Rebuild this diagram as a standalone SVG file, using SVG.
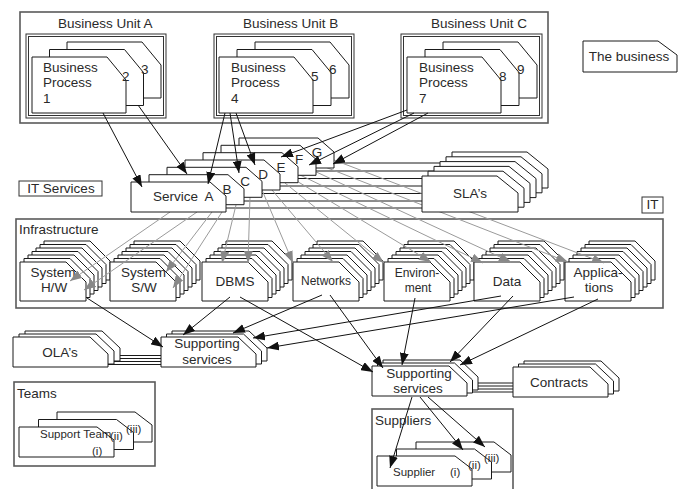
<svg xmlns="http://www.w3.org/2000/svg" width="682" height="489" viewBox="0 0 682 489">
<defs>
<style>
.c{fill:#fff;stroke:#1a1a1a;stroke-width:1}
.box{fill:none;stroke:#5a5a5a;stroke-width:1.6}
.box1{fill:none;stroke:#333;stroke-width:1}
text{font-family:'Liberation Sans Narrow','Arial Narrow','Liberation Sans',Arial,sans-serif;font-size:13.5px;fill:#2a2a2a;stroke:none}
.m{text-anchor:middle}
.s{font-size:12px}
.xs{font-size:11.5px}
.a{fill:none;stroke:#111;stroke-width:1;marker-end:url(#ah)}
.g{fill:none;stroke:#9a9a9a;stroke-width:1;marker-end:url(#gh)}
.l{fill:none;stroke:#1a1a1a;stroke-width:1}
</style>
<marker id="ah" viewBox="0 0 12 9" refX="12" refY="4.5" markerWidth="12" markerHeight="9" markerUnits="userSpaceOnUse" orient="auto"><path d="M0,0L12,4.5L0,9Z" fill="#111"/></marker>
<marker id="gh" viewBox="0 0 12 9" refX="12" refY="4.5" markerWidth="12" markerHeight="9" markerUnits="userSpaceOnUse" orient="auto"><path d="M0,0L12,4.5L0,9Z" fill="#888"/></marker>
<path id="bp" d="M0,0H75L94,23V56H0Z"/>
<path id="biz" d="M0,0H75L94,14V31H0Z"/>
<path id="svc" d="M0,0H79L95,14V30H0Z"/>
<path id="sla" d="M0,0H75L96,17V36H0Z"/>
<path id="inf" d="M0,0H46L66,20V39H0Z"/>
<path id="ss" d="M0,0H77L95,17V30H0Z"/>
<path id="sup" d="M0,0H78L95,13V30H0Z"/>
</defs>
<rect width="682" height="489" fill="#fff"/>

<g id="associations">
<path class="l" d="M200,163H460M200,171H460M200,178.5H460M200,186H460M200,193.5H460M200,201H460M200,208H460"/>
<path class="l" d="M100,355.5H170M100,358.5H170M100,361.5H170M100,364.5H170"/>
<path class="l" d="M460,383H520M460,386H520M460,389H520M460,392H520"/>
</g>

<g id="the-business-area">
<rect class="box" x="20" y="12" width="528" height="111"/>
</g>
<g id="unit-a">
<rect class="box1" x="26" y="34" width="140" height="84"/><rect class="box1" x="28.5" y="36.5" width="135" height="79"/>
<text x="58" y="28">Business Unit A</text>
</g>
<g id="unit-b">
<rect class="box1" x="214" y="34" width="140" height="84"/><rect class="box1" x="216.5" y="36.5" width="135" height="79"/>
<text x="243" y="28">Business Unit B</text>
</g>
<g id="unit-c">
<rect class="box1" x="401" y="34" width="141" height="84"/><rect class="box1" x="403.5" y="36.5" width="136" height="79"/>
<text x="431" y="28">Business Unit C</text>
</g>

<g id="infrastructure">
<rect class="box" x="16" y="219" width="647" height="89"/>
<text x="19" y="234">Infrastructure</text>
</g>

<g id="system-hw" class="c">
<use href="#inf" x="44" y="241"/><use href="#inf" x="40" y="244.5"/><use href="#inf" x="36" y="248"/><use href="#inf" x="32" y="251.5"/><use href="#inf" x="28" y="255"/><use href="#inf" x="24" y="258.5"/><use href="#inf" x="20" y="262"/>
<text class="m" x="53" y="277">System</text><text class="m" x="54" y="292">H/W</text>
</g>
<g id="system-sw" class="c">
<use href="#inf" x="134" y="241"/><use href="#inf" x="130" y="244.5"/><use href="#inf" x="126" y="248"/><use href="#inf" x="122" y="251.5"/><use href="#inf" x="118" y="255"/><use href="#inf" x="114" y="258.5"/><use href="#inf" x="110" y="262"/>
<text class="m" x="143.5" y="277">System</text><text class="m" x="144" y="292">S/W</text>
</g>
<g id="dbms" class="c">
<use href="#inf" x="226" y="241"/><use href="#inf" x="222" y="244.5"/><use href="#inf" x="218" y="248"/><use href="#inf" x="214" y="251.5"/><use href="#inf" x="210" y="255"/><use href="#inf" x="206" y="258.5"/><use href="#inf" x="202" y="262"/>
<text class="m" x="235" y="286">DBMS</text>
</g>
<g id="networks" class="c">
<use href="#inf" x="317" y="241"/><use href="#inf" x="313" y="244.5"/><use href="#inf" x="309" y="248"/><use href="#inf" x="305" y="251.5"/><use href="#inf" x="301" y="255"/><use href="#inf" x="297" y="258.5"/><use href="#inf" x="293" y="262"/>
<text class="m s" x="326" y="285">Networks</text>
</g>
<g id="environment" class="c">
<use href="#inf" x="408" y="241"/><use href="#inf" x="404" y="244.5"/><use href="#inf" x="400" y="248"/><use href="#inf" x="396" y="251.5"/><use href="#inf" x="392" y="255"/><use href="#inf" x="388" y="258.5"/><use href="#inf" x="384" y="262"/>
<text class="m s" x="417" y="277">Environ-</text><text class="m s" x="418" y="292">ment</text>
</g>
<g id="data" class="c">
<use href="#inf" x="498" y="241"/><use href="#inf" x="494" y="244.5"/><use href="#inf" x="490" y="248"/><use href="#inf" x="486" y="251.5"/><use href="#inf" x="482" y="255"/><use href="#inf" x="478" y="258.5"/><use href="#inf" x="474" y="262"/>
<text class="m" x="507" y="286">Data</text>
</g>
<g id="applications" class="c">
<use href="#inf" x="589" y="241"/><use href="#inf" x="585" y="244.5"/><use href="#inf" x="581" y="248"/><use href="#inf" x="577" y="251.5"/><use href="#inf" x="573" y="255"/><use href="#inf" x="569" y="258.5"/><use href="#inf" x="565" y="262"/>
<text class="m" x="598" y="277">Applica-</text><text class="m" x="599" y="292">tions</text>
</g>

<g id="connectors-services-infrastructure">
<path class="g" d="M170,212L70,281"/>
<path class="g" d="M197,212L84,290"/>
<path class="g" d="M212,212L166,272"/>
<path class="g" d="M222,212L173,288"/>
<path class="g" d="M236,205L222,263"/>
<path class="g" d="M250,197L248,263"/>
<path class="g" d="M262,190L293,263"/>
<path class="g" d="M272,190L333,262"/>
<path class="g" d="M285,183L384,263"/>
<path class="g" d="M295,180L431,262"/>
<path class="g" d="M300,175L483,263"/>
<path class="g" d="M312,170L511,262"/>
<path class="g" d="M320,165L568,262"/>
<path class="g" d="M334,160L604,263"/>
</g>

<g id="bp-a" class="c">
<use href="#bp" x="67" y="42"/><use href="#bp" x="49.5" y="49.5"/><use href="#bp" x="32" y="57"/>
<text x="43" y="72">Business</text><text x="43" y="87">Process</text><text x="43" y="103">1</text>
<text x="122" y="81">2</text><text x="141" y="74">3</text>
</g>
<g id="bp-b" class="c">
<use href="#bp" x="255" y="42"/><use href="#bp" x="237" y="49.5"/><use href="#bp" x="219" y="57"/>
<text x="231" y="72">Business</text><text x="231" y="87">Process</text><text x="231" y="103">4</text>
<text x="311" y="81">5</text><text x="329" y="74">6</text>
</g>
<g id="bp-c" class="c">
<use href="#bp" x="443" y="42"/><use href="#bp" x="425" y="49.5"/><use href="#bp" x="407" y="57"/>
<text x="419" y="72">Business</text><text x="419" y="87">Process</text><text x="419" y="103">7</text>
<text x="499" y="81">8</text><text x="517" y="74">9</text>
</g>

<g id="the-business" class="c">
<use href="#biz" x="583" y="41"/>
<text class="m" x="629" y="61">The business</text>
</g>

<g id="it-services-label">
<rect class="box1" x="19" y="181" width="83" height="15"/>
<text class="m" x="61" y="193">IT Services</text>
</g>

<g id="services" class="c">
<use href="#svc" x="239" y="138"/><use href="#svc" x="221" y="145.3"/><use href="#svc" x="203" y="152.7"/><use href="#svc" x="185" y="160"/><use href="#svc" x="167" y="167.3"/><use href="#svc" x="149" y="174.7"/><use href="#svc" x="131" y="182"/>
<text x="153" y="201">Service</text>
<text class="m" x="209" y="201">A</text><text class="m" x="227" y="194">B</text><text class="m" x="245" y="186">C</text><text class="m" x="263" y="179">D</text><text class="m" x="281" y="172">E</text><text class="m" x="299" y="164">F</text><text class="m" x="317" y="157">G</text>
</g>

<g id="slas" class="c">
<use href="#sla" x="452" y="152"/><use href="#sla" x="446" y="156.8"/><use href="#sla" x="440" y="161.6"/><use href="#sla" x="434" y="166.4"/><use href="#sla" x="428" y="171.2"/><use href="#sla" x="422" y="176"/>
<text class="m" x="470" y="198">SLA’s</text>
</g>

<g id="it-label">
<rect class="box1" x="642" y="197" width="21" height="16"/>
<text class="m" x="652.5" y="209">IT</text>
</g>

<g id="olas" class="c">
<use href="#ss" x="25" y="331"/><use href="#ss" x="19" y="334"/><use href="#ss" x="13" y="337"/>
<text class="m" x="60" y="357">OLA’s</text>
</g>

<g id="supporting-services-1" class="c">
<use href="#ss" x="172" y="331"/><use href="#ss" x="166.5" y="334"/><use href="#ss" x="161" y="337"/>
<text class="m" x="207" y="348">Supporting</text><text class="m" x="207" y="364">services</text>
</g>

<g id="supporting-services-2" class="c">
<use href="#ss" x="383" y="360"/><use href="#ss" x="377.5" y="363"/><use href="#ss" x="372" y="366"/>
<text class="m" x="419" y="378">Supporting</text><text class="m" x="418" y="393">services</text>
</g>

<g id="contracts" class="c">
<use href="#ss" x="524" y="361"/><use href="#ss" x="518.5" y="364"/><use href="#ss" x="513" y="367"/>
<text class="m" x="559" y="387">Contracts</text>
</g>

<g id="teams">
<rect class="box" x="14" y="382" width="141" height="84"/>
<text x="17" y="398">Teams</text>
<g class="c">
<use href="#sup" x="57" y="412"/><use href="#sup" x="38.5" y="419.5"/><use href="#sup" x="19" y="427"/>
</g>
<text class="xs" x="40" y="438">Support Team</text>
<text class="xs" x="92" y="455">(i)</text><text class="xs" x="110" y="440">(ii)</text><text class="xs" x="126" y="433">(iii)</text>
</g>

<g id="suppliers">
<rect class="box" x="372" y="409" width="141" height="90"/>
<text x="375" y="425">Suppliers</text>
<g class="c">
<use href="#sup" x="416" y="442"/><use href="#sup" x="396.5" y="449"/><use href="#sup" x="377" y="456"/>
</g>
<text class="xs" x="393" y="476">Supplier</text>
<text class="xs" x="450" y="476">(i)</text><text class="xs" x="468" y="469">(ii)</text><text class="xs" x="484" y="462">(iii)</text>
</g>

<g id="connectors">
<path class="a" d="M103,113L142,187"/>
<path class="a" d="M138,105L187,174"/>
<path class="a" d="M225,113L208,184"/>
<path class="a" d="M230,113L239,173"/>
<path class="a" d="M236,113L255,165"/>
<path class="a" d="M407,110L281,157"/>
<path class="a" d="M414,113L309,165"/>
<path class="a" d="M428,113L333,164"/>
<path class="a" d="M87,298L163,347"/>
<path class="a" d="M230,297L183,335"/>
<path class="a" d="M322,295L233,333"/>
<path class="a" d="M501,296L253,338"/>
<path class="a" d="M574,297L267,348"/>
<path class="a" d="M240,297L373,372"/>
<path class="a" d="M330,295L383,368"/>
<path class="a" d="M415,298L402,365"/>
<path class="a" d="M513,296L450,362"/>
<path class="a" d="M598,299L460,365"/>
<path class="a" d="M412,397L390,468"/>
<path class="a" d="M420,397L463,450"/>
<path class="a" d="M428,397L485,447"/>
</g>
</svg>
